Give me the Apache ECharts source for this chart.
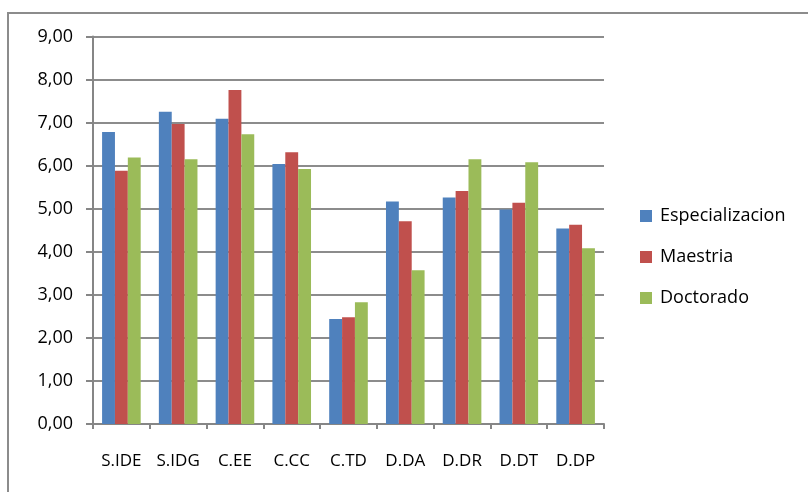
<!DOCTYPE html>
<html>
<head>
<meta charset="utf-8">
<script src="https://cdn.jsdelivr.net/npm/echarts@6/dist/echarts.min.js"></script>
<style>
  html, body { margin: 0; padding: 0; background: #ffffff; }
  #chart { width: 808px; height: 492px; }
</style>
</head>
<body>
<div id="chart"></div>
<script>
// Categories and per-series scores
var categories = ['S.IDE', 'S.IDG', 'C.EE', 'C.CC', 'C.TD', 'D.DA', 'D.DR', 'D.DT', 'D.DP'];
var especializacion = [6.78, 7.25, 7.09, 6.04, 2.44, 5.17, 5.26, 4.98, 4.54];
var maestria        = [5.88, 6.97, 7.76, 6.31, 2.48, 4.71, 5.41, 5.14, 4.63];
var doctorado       = [6.19, 6.15, 6.73, 5.92, 2.83, 3.57, 6.15, 6.08, 4.08];
var seriesNames = ['Especializacion', 'Maestria', 'Doctorado'];

var FONT = 'Open Sans';
var chart = echarts.init(document.getElementById('chart'), null, { renderer: 'canvas' });

function barSeries(name, data, color) {
  return {
    name: name,
    type: 'bar',
    data: data,
    barGap: '0%',
    barCategoryGap: '32%',
    itemStyle: { color: color },
    emphasis: { disabled: true }
  };
}

chart.setOption({
  backgroundColor: '#ffffff',
  animation: false,
  textStyle: { fontFamily: FONT },
  graphic: [
    {
      type: 'polyline',
      shape: { points: [[8, 500], [8, 13], [820, 13]] },
      style: { stroke: '#8c8c8c', lineWidth: 2, fill: null }
    }
  ],
  grid: { left: 93, top: 36.5, right: 204, bottom: 68 },
  legend: {
    data: seriesNames,
    orient: 'vertical',
    left: 640,
    top: 207,
    padding: 0,
    itemWidth: 12,
    itemHeight: 12,
    itemGap: 23,
    icon: 'rect',
    textStyle: { fontFamily: FONT, fontSize: 18, color: '#000000', padding: [0, 0, 0, 3] }
  },
  xAxis: {
    type: 'category',
    data: categories,
    axisLine: { lineStyle: { color: '#868686', width: 2 } },
    axisTick: { show: true, length: 5, lineStyle: { color: '#868686', width: 2 } },
    axisLabel: { color: '#000000', fontSize: 17, fontFamily: FONT, margin: 29 },
    splitLine: { show: false }
  },
  yAxis: {
    type: 'value',
    min: 0,
    max: 9,
    interval: 1,
    axisLine: { show: true, lineStyle: { color: '#868686', width: 2 } },
    axisTick: { show: true, length: 7, lineStyle: { color: '#868686', width: 2 } },
    axisLabel: {
      color: '#000000',
      fontSize: 18,
      fontFamily: FONT,
      margin: 20,
      formatter: function (v) { return v.toFixed(2).replace('.', ','); }
    },
    splitLine: { show: true, lineStyle: { color: '#8c8c8c', width: 2 } }
  },
  series: [
    barSeries(seriesNames[0], especializacion, '#4F81BD'),
    barSeries(seriesNames[1], maestria, '#C0504D'),
    barSeries(seriesNames[2], doctorado, '#9BBB59')
  ]
});
</script>
</body>
</html>
